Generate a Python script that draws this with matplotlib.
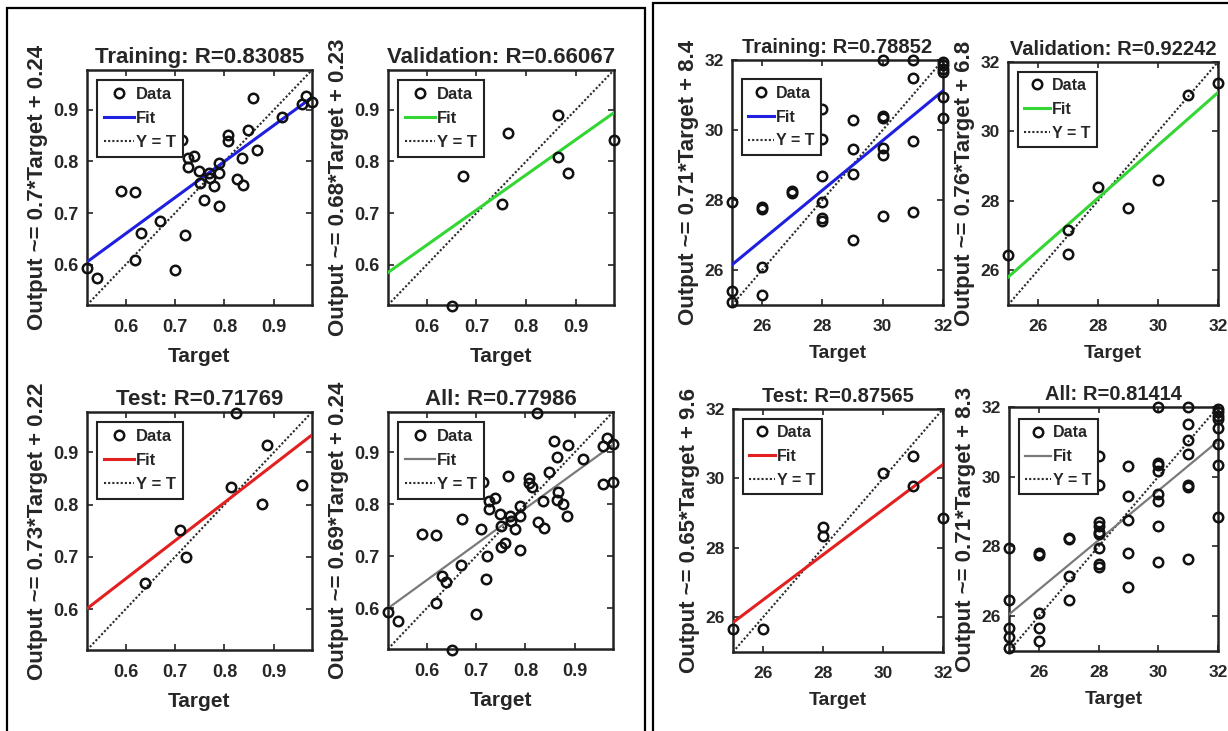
import matplotlib
matplotlib.use('Agg')
import matplotlib.pyplot as plt
from matplotlib.patches import Rectangle
import numpy as np

plt.rcParams['font.family'] = ['Liberation Sans', 'DejaVu Sans']
plt.rcParams['font.weight'] = 'bold'

# ---------------- data: left panel (normalised targets) ----------------
L_lims = [0.522, 0.977]
L_ticks = [0.6, 0.7, 0.8, 0.9]
L_tick_labels = ['0.6', '0.7', '0.8', '0.9']

L_train_t = [0.522, 0.543, 0.59, 0.62, 0.62, 0.632, 0.67, 0.70, 0.715, 0.72,
             0.727, 0.727, 0.738, 0.749, 0.751, 0.759, 0.768, 0.770, 0.778, 0.788,
             0.788, 0.788, 0.808, 0.808, 0.826, 0.836, 0.838, 0.847, 0.857, 0.866,
             0.917, 0.956, 0.964, 0.976]
L_train_y = [0.593, 0.575, 0.743, 0.740, 0.610, 0.662, 0.684, 0.590, 0.842, 0.657,
             0.790, 0.807, 0.811, 0.782, 0.759, 0.726, 0.777, 0.767, 0.752, 0.797,
             0.777, 0.713, 0.851, 0.840, 0.765, 0.807, 0.754, 0.861, 0.922, 0.823,
             0.886, 0.912, 0.927, 0.916]
L_val_t = [0.651, 0.672, 0.751, 0.764, 0.864, 0.864, 0.884, 0.977]
L_val_y = [0.520, 0.771, 0.718, 0.855, 0.890, 0.808, 0.778, 0.842]
L_test_t = [0.639, 0.711, 0.722, 0.814, 0.824, 0.876, 0.885, 0.957]
L_test_y = [0.651, 0.752, 0.700, 0.833, 0.975, 0.801, 0.913, 0.838]

L_slopes = [0.7, 0.68, 0.73, 0.69]
L_icpts = [0.24, 0.23, 0.22, 0.24]
L_R = [0.83085, 0.66067, 0.71769, 0.77986]

# ---------------- data: right panel (raw targets) ----------------
R_lims = [25, 32]
R_ticks = [26, 28, 30, 32]
R_tick_labels = ['26', '28', '30', '32']

R_train_t = [25, 25, 25, 26, 26, 26, 26, 27, 27, 28, 28, 28, 28, 28, 28,
             29, 29, 29, 29, 30, 30, 30, 30, 30, 30, 31, 31, 31, 31,
             32, 32, 32, 32, 32, 32]
R_train_y = [27.95, 25.4, 25.1, 26.1, 25.3, 27.8, 27.75, 28.25, 28.2,
             30.6, 29.75, 28.7, 27.95, 27.5, 27.4,
             30.3, 29.45, 28.75, 26.85,
             32.0, 30.4, 30.35, 29.5, 29.3, 27.55,
             32.0, 31.5, 29.7, 27.65,
             31.95, 31.85, 31.75, 31.65, 30.95, 30.35]
R_val_t = [25, 27, 27, 28, 29, 30, 31, 32]
R_val_y = [26.45, 27.15, 26.47, 28.4, 27.8, 28.6, 31.05, 31.4]
R_test_t = [25, 26, 28, 28, 30, 31, 31, 32]
R_test_y = [25.67, 25.65, 28.6, 28.35, 30.15, 30.65, 29.77, 28.85]

R_slopes = [0.71, 0.76, 0.65, 0.71]
R_icpts = [8.4, 6.8, 9.6, 8.3]
R_R = [0.78852, 0.92242, 0.87565, 0.81414]

names = ['Training', 'Validation', 'Test', 'All']
fit_colors = ['#1f1fe0', '#33d633', '#e32020', '#7a7a7a']
fit_widths = [2.2, 2.2, 2.2, 1.6]

# ---------------- figure ----------------
W, H = 1228, 731
fig = plt.figure(figsize=(W / 100, H / 100), dpi=100)
TXT = '#262626'
EDGE = '#222222'

# font sizes per panel: (title, xlabel, ticks, ylabel, legend, handlelength)
L_fs = (16, 15, 13, 16, 12, 1.8)
R_fs = (14.5, 14, 12.5, 16, 11.5, 1.6)


def ax_px(x0, y0, x1, y1):
    return fig.add_axes([x0 / W, 1 - y1 / H, (x1 - x0) / W, (y1 - y0) / H])


def draw(ax, t, y, slope, icpt, r, name, color, flw, lims, ticks, tlabels, fs, leg_top):
    f_title, f_xl, f_tick, f_yl, f_leg, hl = fs
    lo, hi = lims
    xs = np.array([lo, hi], dtype=float)
    ax.plot(t, y, 'o', mfc='none', mec='#111111', ms=6.8, mew=1.8,
            clip_on=False, label='Data', zorder=5)
    ax.plot(xs, slope * xs + icpt, color=color, lw=flw, label='Fit', zorder=3)
    ax.plot(xs, xs, ls=(0, (1, 1)), color='#2a2a2a', lw=1.5, label='Y = T', zorder=2)
    ax.set_xlim(lo, hi)
    ax.set_ylim(lo, hi)
    ax.set_xticks(ticks)
    ax.set_xticklabels(tlabels)
    ax.set_yticks(ticks)
    ax.set_yticklabels(tlabels)
    ax.tick_params(direction='in', top=True, right=True, length=4, width=1.2,
                   color=EDGE, labelcolor=TXT, labelsize=f_tick)
    ax.tick_params(axis='x', pad=10)
    ax.tick_params(axis='y', pad=6)
    for s in ax.spines.values():
        s.set_linewidth(1.8)
        s.set_color(EDGE)
    ax.set_title(f'{name}: R={r:.5f}', fontsize=f_title, fontweight='bold', color=TXT, pad=5)
    ax.set_xlabel('Target', fontsize=f_xl, fontweight='bold', color=TXT, labelpad=8)
    ax.set_ylabel(f'Output ~= {slope:g}*Target + {icpt:g}', fontsize=f_yl,
                  fontweight='bold', color=TXT, labelpad=4)
    leg = ax.legend(loc='upper left', bbox_to_anchor=(0.0, leg_top),
                    fontsize=f_leg, handlelength=hl,
                    handletextpad=0.15, borderpad=0.4, labelspacing=0.55,
                    borderaxespad=0.6, fancybox=False, framealpha=1,
                    edgecolor=EDGE, numpoints=1)
    leg.get_frame().set_linewidth(1.5)
    for txt in leg.get_texts():
        txt.set_color(TXT)


# axes boxes in pixel coordinates (x0, y0, x1, y1)
L_boxes = [(87, 70, 312, 305), (388, 70, 614, 305), (87, 412, 312, 650), (388, 412, 613, 649)]
R_boxes = [(732, 60, 943, 305), (1008, 62, 1218, 305), (733, 409, 943, 652), (1009, 407, 1218, 651)]
L_leg_top = [1.0, 1.0, 1.0, 1.0]
R_leg_top = [0.96, 1.0, 1.0, 0.99]

L_sets = [(L_train_t, L_train_y), (L_val_t, L_val_y), (L_test_t, L_test_y),
          (L_train_t + L_val_t + L_test_t, L_train_y + L_val_y + L_test_y)]
R_sets = [(R_train_t, R_train_y), (R_val_t, R_val_y), (R_test_t, R_test_y),
          (R_train_t + R_val_t + R_test_t, R_train_y + R_val_y + R_test_y)]

for i in range(4):
    ax = ax_px(*L_boxes[i])
    draw(ax, L_sets[i][0], L_sets[i][1], L_slopes[i], L_icpts[i], L_R[i], names[i],
         fit_colors[i], fit_widths[i], L_lims, L_ticks, L_tick_labels, L_fs, L_leg_top[i])
    ax = ax_px(*R_boxes[i])
    draw(ax, R_sets[i][0], R_sets[i][1], R_slopes[i], R_icpts[i], R_R[i], names[i],
         fit_colors[i], fit_widths[i], R_lims, R_ticks, R_tick_labels, R_fs, R_leg_top[i])

# outer frames of the two image panels
fig.add_artist(Rectangle((7 / W, -0.05), (645 - 7) / W, 1 - 8 / H + 0.05,
                         transform=fig.transFigure, fill=False, lw=1.6, ec='black'))
fig.add_artist(Rectangle((653 / W, -0.05), 1.0, 1 - 3 / H + 0.05,
                         transform=fig.transFigure, fill=False, lw=1.6, ec='black'))

fig.savefig('out.png', dpi=100, facecolor='white')
